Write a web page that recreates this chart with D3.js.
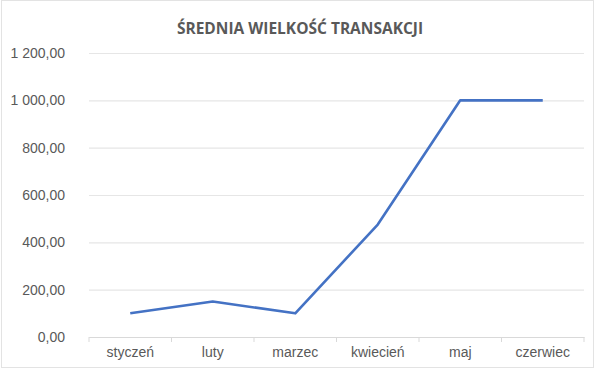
<!DOCTYPE html>
<html>
<head>
<meta charset="utf-8">
<script src="https://cdn.jsdelivr.net/npm/d3@7"></script>
<style>
  body { margin: 0; background: #fff; }
  svg text { font-family: "Liberation Sans", Arial, sans-serif; }
</style>
</head>
<body>
<div id="chart"></div>
<script>
// data
const months = ["styczeń", "luty", "marzec", "kwiecień", "maj", "czerwiec"];
const avgValues = [100, 150, 100, 475, 1000, 1000];
const yTicks = [0, 200, 400, 600, 800, 1000, 1200];

const W = 600, H = 370;
const margin = { top: 53, right: 16, bottom: 33, left: 89 };
const width = W - margin.left - margin.right;
const height = H - margin.top - margin.bottom;

const svg = d3.select("#chart").append("svg")
    .attr("width", W)
    .attr("height", H);

// light frame around the chart area
svg.append("rect")
    .attr("x", 1.5).attr("y", 0.5)
    .attr("width", 592).attr("height", 367)
    .attr("fill", "#fff")
    .attr("stroke", "#e3e3e3");

svg.append("text")
    .attr("x", W / 2)
    .attr("y", 34)
    .attr("text-anchor", "middle")
    .style("font-family", "'Open Sans', sans-serif")
    .style("font-weight", "bold")
    .style("font-size", "15.5px")
    .style("fill", "#595959")
    .text("ŚREDNIA WIELKOŚĆ TRANSAKCJI");

const g = svg.append("g")
    .attr("transform", `translate(${margin.left},${margin.top})`);

const x = d3.scaleBand().domain(months).range([0, width]);
const y = d3.scaleLinear().domain([0, 1200]).range([height, 0]);

const fmt = v => {
    const s = v.toFixed(2).replace(".", ",");
    return s.replace(/^(\d)(\d{3})/, "$1 $2");
};

// horizontal gridlines + y labels
const yAxis = g.append("g")
    .call(d3.axisLeft(y).tickValues(yTicks).tickSize(-width).tickFormat(fmt));
yAxis.select(".domain").remove();
yAxis.selectAll(".tick line").attr("stroke", "#e6e6e6").attr("stroke-width", 1.2);
yAxis.selectAll(".tick text")
    .attr("x", -24)
    .style("font-size", "14px")
    .style("fill", "#595959");

// category axis with ticks between categories
const xAxis = g.append("g")
    .attr("transform", `translate(0,${height})`)
    .call(d3.axisBottom(x).tickSize(0).tickPadding(10));
xAxis.select(".domain").attr("stroke", "#d9d9d9");
xAxis.selectAll(".tick text")
    .style("font-size", "14px")
    .style("fill", "#595959");

g.append("g")
    .selectAll("line")
    .data(months.concat([null]))
    .join("line")
    .attr("x1", (d, i) => i * x.bandwidth())
    .attr("x2", (d, i) => i * x.bandwidth())
    .attr("y1", height)
    .attr("y2", height + 5)
    .attr("stroke", "#d9d9d9");

const line = d3.line()
    .x((d, i) => x(months[i]) + x.bandwidth() / 2)
    .y(d => y(d));

g.append("path")
    .datum(avgValues)
    .attr("fill", "none")
    .attr("stroke", "#4472c4")
    .attr("stroke-width", 2.6)
    .attr("stroke-linejoin", "round")
    .attr("d", line);
</script>
</body>
</html>
